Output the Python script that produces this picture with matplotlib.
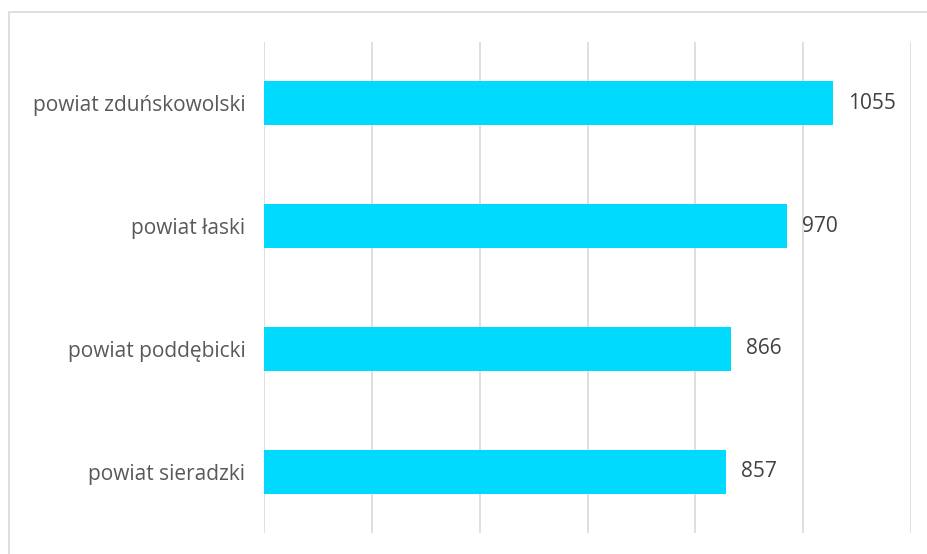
import matplotlib
matplotlib.use("Agg")
import matplotlib.pyplot as plt
from matplotlib.patches import Rectangle

powiaty = ["powiat sieradzki", "powiat poddębicki", "powiat łaski", "powiat zduńskowolski"]
wartosci = [857, 866, 970, 1055]

plt.rcParams["font.family"] = ["Open Sans", "DejaVu Sans"]

fig = plt.figure(figsize=(9.28, 5.54), dpi=100)
ax = fig.add_axes([264 / 928, 1 - 533 / 554, (911 - 264) / 928, (533 - 42) / 554])

# ramka wokol wykresu (prawa i dolna krawedz poza obrazkiem)
fig.patches.append(Rectangle((9.5 / 928, -0.05), 1.0, 1.05 - 12 / 554,
                             transform=fig.transFigure, fill=False,
                             edgecolor="#d9d9d9", linewidth=1.2))

ax.barh(range(len(powiaty)), wartosci, height=0.36, color="#00DAFF", zorder=2)
for i, v in enumerate(wartosci):
    ax.text(v + 28, i, str(v), va="center", ha="left", fontsize=15, color="#404040")

ax.set_xlim(0, 1200)
ax.set_ylim(-0.5, 3.5)
ax.set_xticks(range(0, 1201, 200))
ax.xaxis.grid(True, color="#d9d9d9", linewidth=1.2, zorder=0)
ax.tick_params(axis="x", length=0, labelbottom=False)
ax.tick_params(axis="y", length=0, pad=13.5, labelsize=15, labelcolor="#595959")
ax.set_yticks(range(len(powiaty)))
ax.set_yticklabels(powiaty)
for s in ax.spines.values():
    s.set_visible(False)

fig.savefig("out.png", dpi=100)
